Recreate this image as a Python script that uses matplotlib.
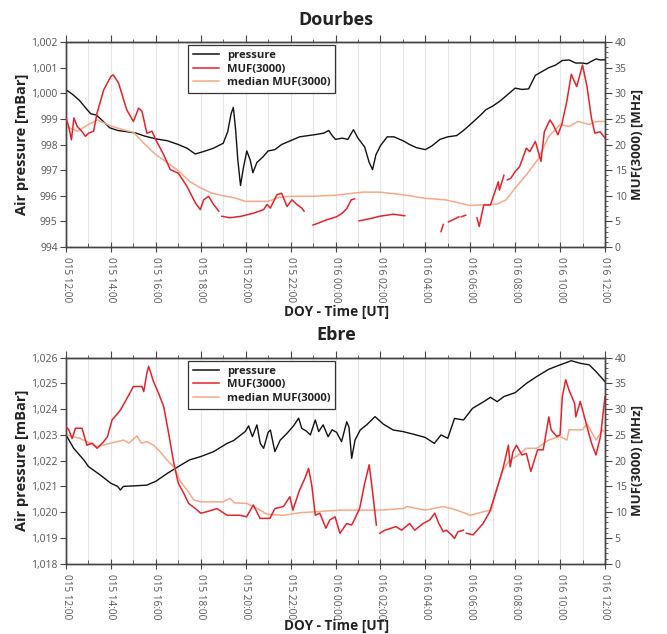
import numpy as np
import matplotlib
matplotlib.use("Agg")
import matplotlib.pyplot as plt
from matplotlib.ticker import MultipleLocator, FuncFormatter
from matplotlib.lines import Line2D

nan = np.nan

# ---------------- data (hours since DOY 015 12:00 UT) ----------------
tick_hours = [0, 2, 4, 6, 8, 10, 12, 14, 16, 18, 20, 22, 24]
tick_labels = ["015 12:00", "015 14:00", "015 16:00", "015 18:00", "015 20:00",
               "015 22:00", "016 00:00", "016 02:00", "016 04:00", "016 06:00",
               "016 08:00", "016 10:00", "016 12:00"]

# Dourbes
dou_p_h = [0, 0.3, 0.6, 0.9, 1.1, 1.35, 1.6, 1.95, 2.3, 2.7, 3.1, 3.5, 4.0, 4.5, 5.0,
           5.4, 5.75, 6.1, 6.55, 7.0, 7.2, 7.35, 7.45, 7.55, 7.65, 7.77, 7.9, 8.05,
           8.2, 8.32, 8.5, 8.75, 9.0, 9.3, 9.6, 10.0, 10.4, 10.8, 11.2, 11.5, 11.7,
           11.85, 12.0, 12.3, 12.55, 12.8, 13.0, 13.3, 13.5, 13.65, 13.8, 14.0, 14.3,
           14.6, 15.0, 15.3, 15.6, 16.0, 16.3, 16.65, 17.0, 17.4, 17.7, 18.0, 18.4,
           18.7, 19.0, 19.3, 19.6, 20.0, 20.3, 20.6, 20.9, 21.2, 21.5, 21.8, 22.1,
           22.4, 22.7, 23.0, 23.2, 23.4, 23.6, 23.8, 24.0]
dou_p = [1000.14, 999.95, 999.72, 999.4, 999.2, 999.15, 998.95, 998.65, 998.55, 998.5,
         998.45, 998.33, 998.22, 998.15, 998.0, 997.85, 997.63, 997.72, 997.85, 998.05,
         998.5, 999.2, 999.45, 998.6, 997.4, 996.4, 997.1, 997.75, 997.4, 996.9, 997.3,
         997.5, 997.75, 997.8, 998.0, 998.15, 998.3, 998.35, 998.4, 998.45, 998.55,
         998.35, 998.2, 998.25, 998.2, 998.58, 998.25, 997.9, 997.3, 997.02, 997.6,
         997.95, 998.3, 998.3, 998.15, 998.0, 997.88, 997.8, 997.95, 998.2, 998.3,
         998.35, 998.55, 998.78, 999.1, 999.36, 999.5, 999.68, 999.9, 1000.2, 1000.15,
         1000.17, 1000.7, 1000.85, 1001.0, 1001.1, 1001.28, 1001.3, 1001.18, 1001.18,
         1001.15, 1001.25, 1001.34, 1001.3, 1001.31]

dou_m_h = [0, 0.12, 0.24, 0.35, 0.5, 0.7, 0.86, 1.0, 1.23, 1.38, 1.68, 2.0, 2.1, 2.34,
           2.7, 3.0, 3.23, 3.38, 3.6, 3.83, 4.0, 4.35, 4.64, 5.0, 5.39, 5.76, 5.98, 6.13,
           6.35, 6.57, 6.8, 6.87, 6.94, 7.3, 7.8, 8.35, 8.8, 8.95, 9.1, 9.39, 9.6, 9.84,
           10.06, 10.28, 10.5, 10.6, 10.8, 11.0, 11.2, 11.6, 12.05, 12.3, 12.5, 12.7,
           12.85, 12.95, 13.05, 13.5, 13.97, 14.57, 15.08, 15.9, 16.7, 16.8, 16.9, 17.03,
           17.5, 17.55, 17.6, 17.8, 18.0, 18.3, 18.4, 18.6, 18.9, 19.1, 19.25, 19.3, 19.5,
           19.57, 19.65, 19.8, 20.0, 20.2, 20.5, 20.65, 20.9, 21.15, 21.3, 21.55, 21.7,
           21.9, 22.07, 22.3, 22.5, 22.74, 23.0, 23.2, 23.4, 23.55, 23.78, 24.0]
dou_m = [25.2, 23.5, 20.9, 25.2, 23.5, 22.6, 21.6, 22.2, 22.6, 26.1, 30.7, 33.3, 33.6,
         32.0, 26.8, 24.5, 27.1, 26.5, 22.2, 22.6, 20.9, 18.0, 15.1, 14.4, 11.8, 8.6,
         7.3, 9.2, 9.9, 8.3, 7.0, nan, 6.0, 5.7, 6.0, 6.6, 7.3, 8.3, 7.6, 10.2, 10.5,
         7.9, 9.2, 8.3, 7.6, 7.0, nan, 4.3, 4.6, 5.3, 5.9, 6.6, 7.5, 9.2, 9.4, nan, 5.1,
         5.5, 6.0, 6.4, 6.1, nan, 3.0, 4.4, nan, 4.9, 5.9, nan, 5.9, 6.2, nan, 5.7, 4.0,
         8.2, 8.2, 10.8, 12.7, 11.1, 14.0, nan, 13.1, 13.4, 14.7, 15.7, 19.3, 18.6, 20.6,
         16.7, 22.5, 24.8, 23.8, 21.9, 23.8, 28.4, 33.7, 31.3, 35.5, 31.3, 25.1, 22.2,
         22.5, 21.3]

dou_med_h = [0, 0.5, 1.0, 1.4, 2.0, 2.7, 3.0, 3.45, 4.0, 4.5, 5.0, 5.5, 6.0, 6.5, 7.0,
             7.5, 8.0, 8.5, 9.0, 9.5, 10.0, 11.0, 12.0, 13.2, 14.0, 15.0, 16.0, 16.9,
             18.0, 19.2, 19.6, 20.0, 20.5, 21.0, 21.5, 22.0, 22.4, 22.8, 23.3, 23.6, 24.0]
dou_med = [23.5, 22.6, 23.9, 24.8, 23.6, 22.7, 22.4, 20.3, 18.0, 16.5, 14.9, 12.8, 11.5,
           10.5, 10.0, 9.6, 8.9, 8.9, 8.9, 9.7, 9.9, 9.9, 10.1, 10.7, 10.7, 10.2, 9.5,
           9.2, 8.1, 8.4, 9.2, 11.5, 14.1, 17.0, 21.6, 23.9, 23.5, 24.5, 23.9, 24.5, 24.5]

# Ebre
ebr_p_h = [0, 0.34, 0.79, 1.0, 1.53, 2.0, 2.3, 2.42, 2.55, 3.0, 3.6, 4.0, 4.5, 5.0, 5.5,
           6.0, 6.57, 7.17, 7.46, 7.98, 8.13, 8.3, 8.5, 8.65, 8.8, 9.0, 9.1, 9.3, 9.54,
           9.84, 10.13, 10.36, 10.5, 10.7, 10.88, 11.1, 11.25, 11.45, 11.67, 11.85, 12.05,
           12.27, 12.5, 12.6, 12.72, 12.87, 13.1, 13.4, 13.76, 14.13, 14.57, 15.0, 15.46,
           16.0, 16.4, 16.7, 17.0, 17.3, 17.7, 18.1, 18.6, 18.9, 19.2, 19.5, 20.0, 20.5,
           20.95, 21.5, 22.0, 22.5, 22.9, 23.3, 23.6, 24.0]
ebr_p = [1023.0, 1022.48, 1022.03, 1021.77, 1021.44, 1021.12, 1021.0, 1020.86, 1021.0,
         1021.02, 1021.05, 1021.2, 1021.5, 1021.77, 1022.03, 1022.16, 1022.35, 1022.67,
         1022.78, 1023.13, 1023.35, 1022.93, 1023.39, 1022.67, 1022.48, 1023.1, 1023.19,
         1022.35, 1022.8, 1023.06, 1023.35, 1023.65, 1023.25, 1023.15, 1023.0, 1023.58,
         1023.13, 1023.39, 1022.93, 1023.2, 1023.1, 1022.74, 1023.51, 1023.3, 1022.09,
         1022.8, 1023.19, 1023.4, 1023.71, 1023.42, 1023.19, 1023.13, 1023.03, 1022.9,
         1022.67, 1023.0, 1022.87, 1023.64, 1023.58, 1024.03, 1024.29, 1024.46, 1024.29,
         1024.49, 1024.64, 1025.0, 1025.26, 1025.55, 1025.72, 1025.88, 1025.78, 1025.72,
         1025.46, 1025.07]

ebr_m_h = [0, 0.12, 0.27, 0.42, 0.71, 0.93, 1.16, 1.38, 1.68, 1.85, 2.05, 2.42, 2.64, 3.0,
           3.38, 3.46, 3.6, 3.68, 3.9, 4.12, 4.35, 4.57, 4.8, 5.0, 5.24, 5.46, 5.76, 6.0,
           6.28, 6.72, 7.17, 7.46, 7.76, 8.04, 8.34, 8.64, 9.08, 9.3, 9.68, 9.97, 10.1,
           10.4, 10.64, 10.8, 10.94, 11.1, 11.3, 11.57, 11.75, 11.98, 12.2, 12.5, 12.72,
           12.87, 13.08, 13.3, 13.5, 13.65, 13.82, 13.9, 13.97, 14.2, 14.7, 14.94, 15.3,
           15.53, 15.9, 16.2, 16.42, 16.6, 16.8, 16.94, 17.16, 17.3, 17.45, 17.7, 17.77,
           17.83, 18.13, 18.57, 18.87, 19.17, 19.46, 19.7, 19.78, 19.9, 20.06, 20.3, 20.5,
           20.7, 21.0, 21.25, 21.5, 21.6, 21.85, 22.0, 22.1, 22.25, 22.4, 22.65, 22.7,
           22.9, 23.2, 23.4, 23.6, 23.8, 24.0]
ebr_m = [26.6, 26.0, 24.3, 26.3, 26.3, 23.0, 23.4, 22.4, 23.7, 24.7, 27.9, 29.8, 31.5,
         34.4, 34.4, 33.4, 37.0, 38.3, 35.3, 33.1, 30.5, 25.3, 19.5, 15.6, 13.7, 11.7,
         10.7, 9.8, 10.1, 10.7, 9.4, 9.4, 9.4, 9.1, 11.4, 8.8, 8.8, 10.7, 11.1, 13.0,
         10.4, 14.3, 16.6, 18.5, 15.3, 9.4, 9.8, 6.9, 8.5, 9.1, 5.9, 7.8, 7.5, 8.8, 10.8,
         15.6, 19.2, 14.0, 7.5, nan, 5.9, 6.5, 7.2, 6.5, 7.8, 6.5, 7.8, 8.5, 9.8, 7.8,
         6.2, 6.5, 5.6, 4.9, 6.2, 6.5, nan, 5.9, 5.6, 7.8, 10.1, 14.3, 18.5, 23.0, 18.8,
         21.7, 23.0, 21.1, 21.4, 17.9, 22.1, 22.1, 28.5, 26.0, 24.7, 25.0, 32.4, 35.7,
         33.7, 31.1, 28.5, 31.5, 26.6, 23.4, 21.1, 24.7, 32.4]

ebr_med_h = [0, 0.64, 1.38, 2.0, 2.57, 2.8, 3.16, 3.35, 3.6, 3.9, 4.2, 4.5, 4.8, 5.1,
             5.39, 5.68, 6.0, 6.57, 7.0, 7.3, 7.5, 8.06, 8.65, 8.95, 9.69, 10.43, 11.17,
             12.2, 13.2, 14.0, 15.0, 15.2, 16.0, 16.8, 17.4, 18.0, 18.6, 18.94, 19.17,
             19.46, 19.76, 20.06, 20.5, 20.95, 21.5, 22.0, 22.3, 22.4, 23.0, 23.2, 23.6,
             23.9, 24.0]
ebr_med = [25.0, 24.3, 22.7, 23.4, 24.0, 23.4, 24.8, 23.4, 23.7, 23.0, 21.7, 20.1, 18.8,
           15.9, 14.3, 12.4, 12.0, 12.0, 12.0, 12.7, 11.8, 11.7, 10.4, 9.6, 9.4, 9.9,
           10.1, 10.4, 10.4, 10.4, 10.7, 11.1, 10.4, 11.1, 10.4, 9.4, 10.1, 10.4, 14.3,
           18.2, 20.1, 20.8, 22.4, 22.4, 24.0, 24.7, 24.0, 26.0, 26.0, 27.2, 24.0, 26.0,
           25.3]

# ---------------- styling ----------------
plt.rcParams['font.family'] = ['Open Sans', 'DejaVu Sans']
C_P = '#111111'
C_M = '#e3232c'
C_MED = '#f5a987'
TICK_C = '#555555'
SPINE_C = '#444444'
LAB_C = '#222222'

fig = plt.figure(figsize=(6.67, 6.34), dpi=100)


def make_panel(rect, title, ph, pv, mh, mv, medh, medv, pmin, pmax, title_y, xlab_y):
    ax = fig.add_axes(rect)
    ax2 = ax.twinx()
    for h in range(0, 25):
        ax.axvline(h, color='#e6e6e6', lw=0.8, zorder=0)
    ax.plot(ph, pv, color=C_P, lw=1.0, zorder=3)
    ax2.plot(medh, medv, color=C_MED, lw=1.1, zorder=2)
    ax2.plot(mh, mv, color=C_M, lw=1.1, zorder=3)

    ax.set_xlim(0, 24)
    ax.set_ylim(pmin, pmax)
    ax2.set_ylim(0, 40)
    ax.set_xticks(tick_hours)
    ax.set_xticklabels(tick_labels, rotation=-90, fontsize=7.2, color=TICK_C)
    ax.xaxis.set_minor_locator(MultipleLocator(1))
    ax.yaxis.set_major_locator(MultipleLocator(1))
    ax.yaxis.set_major_formatter(FuncFormatter(lambda v, p: f"{int(round(v)):,}"))
    ax2.yaxis.set_major_locator(MultipleLocator(5))
    ax2.yaxis.set_minor_locator(MultipleLocator(1))
    for a in (ax, ax2):
        for s in a.spines.values():
            s.set_color(SPINE_C)
            s.set_linewidth(1.0)
    ax.tick_params(axis='x', which='major', direction='inout', length=7, top=False,
                   color=SPINE_C, labelcolor=TICK_C, labelsize=7.2, pad=4)
    ax.tick_params(axis='x', which='minor', direction='in', length=3, top=False,
                   color=SPINE_C)
    # top ticks pointing outward
    sec = ax.secondary_xaxis('top')
    sec.set_xticks(tick_hours)
    sec.xaxis.set_minor_locator(MultipleLocator(1))
    sec.tick_params(axis='x', which='major', direction='out', length=5,
                    color=SPINE_C, labeltop=False)
    sec.tick_params(axis='x', which='minor', direction='out', length=2.5,
                    color=SPINE_C)
    sec.spines['top'].set_color(SPINE_C)

    ax.tick_params(axis='y', which='major', direction='out', length=4,
                   color=SPINE_C, labelcolor=TICK_C, labelsize=7.5, pad=2)
    ax2.tick_params(axis='y', which='major', direction='out', length=5,
                    color=SPINE_C, labelcolor=TICK_C, labelsize=7.5, pad=2)
    ax2.tick_params(axis='y', which='minor', direction='out', length=2.5,
                    color=SPINE_C)
    ax.set_ylabel('Air pressure [mBar]', fontsize=10.5, fontweight='bold', color=LAB_C,
                  labelpad=1.5)
    ax2.set_ylabel('MUF(3000) [MHz]', fontsize=9.5, fontweight='bold', color=LAB_C,
                   labelpad=3)
    fig.text(0.504, 1 - xlab_y / 634, 'DOY - Time [UT]', ha='center', va='center',
             fontsize=9.8, fontweight='bold', color=LAB_C)
    fig.text(0.504, 1 - title_y / 634, title, ha='center', va='center', fontsize=13,
             fontweight='bold', color=LAB_C)
    handles = [Line2D([], [], color=C_P, lw=1.1),
               Line2D([], [], color=C_M, lw=1.1),
               Line2D([], [], color=C_MED, lw=1.1)]
    leg = ax2.legend(handles, ['pressure', 'MUF(3000)', 'median MUF(3000)'],
                     loc='upper left', bbox_to_anchor=(0.226, 0.985), fontsize=8.1,
                     frameon=True, fancybox=False, framealpha=1, edgecolor='#333333',
                     borderpad=0.45, labelspacing=0.22, handlelength=2.3,
                     handletextpad=0.7, borderaxespad=0)
    leg.get_frame().set_linewidth(0.9)
    for t in leg.get_texts():
        t.set_fontweight('bold')
        t.set_color(LAB_C)
    return ax, ax2


make_panel([0.099, 0.6104, 0.808, 0.3233], 'Dourbes', dou_p_h, dou_p, dou_m_h, dou_m,
           dou_med_h, dou_med, 994, 1002, 20, 312)
make_panel([0.099, 0.1109, 0.808, 0.325], 'Ebre', ebr_p_h, ebr_p, ebr_m_h, ebr_m,
           ebr_med_h, ebr_med, 1018, 1026, 335, 626)

fig.savefig('out.png', dpi=100)
